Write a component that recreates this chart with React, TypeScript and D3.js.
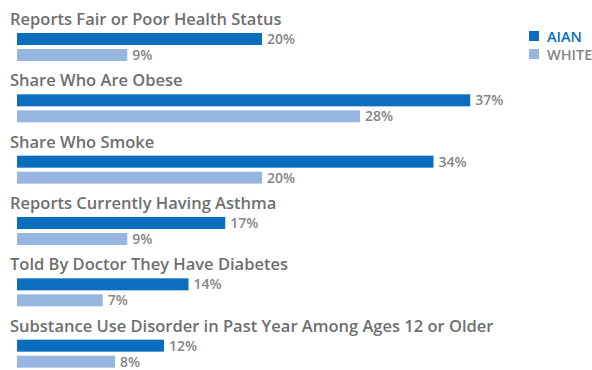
import React from "react";
import * as d3 from "d3";

const categories = [
  "Reports Fair or Poor Health Status",
  "Share Who Are Obese",
  "Share Who Smoke",
  "Reports Currently Having Asthma",
  "Told By Doctor They Have Diabetes",
  "Substance Use Disorder in Past Year Among Ages 12 or Older",
];
const aian = [20, 37, 34, 17, 14, 12];
const white = [9, 28, 20, 9, 7, 8];
const seriesNames = ["AIAN", "WHITE"];

const W = 592;
const H = 370;
const AIAN_COLOR = "#0a6dbd";
const WHITE_COLOR = "#97b6df";
const TEXT_GRAY = "#6f6f6f";
const LABEL_GRAY = "#858585";
const FONT = "'Open Sans', 'DejaVu Sans', sans-serif";

export default function App() {
  const x = d3.scaleLinear().domain([0, 40]).range([17, 507]);
  const y = d3.scaleBand<string>().domain(categories).range([7, 375]);
  const barH = 12;

  return (
    <svg
      width={W}
      height={H}
      style={{ position: "absolute", left: 0, top: 0, background: "#fff" }}
      fontFamily={FONT}
    >
      {categories.map((c, i) => {
        const g = y(c) as number;
        const aTop = g + 26;
        const wTop = g + 42;
        return (
          <g key={c}>
            <text x={10} y={g + 18} fontSize={16.5} fontWeight={600} fill={TEXT_GRAY}>
              {c}
            </text>
            <rect x={x(0)} y={aTop} width={x(aian[i]) - x(0)} height={barH} fill={AIAN_COLOR} />
            <text
              x={x(aian[i]) + 5}
              y={aTop + barH / 2 + 5}
              fontSize={14}
              fontWeight={600}
              fill={LABEL_GRAY}
            >
              {aian[i]}%
            </text>
            <rect x={x(0)} y={wTop} width={x(white[i]) - x(0)} height={barH} fill={WHITE_COLOR} />
            <text
              x={x(white[i]) + 5}
              y={wTop + barH / 2 + 5}
              fontSize={14}
              fontWeight={600}
              fill={LABEL_GRAY}
            >
              {white[i]}%
            </text>
          </g>
        );
      })}
      {seriesNames.map((s, i) => (
        <g key={s} transform={`translate(529, ${31 + i * 18})`}>
          <rect x={0} y={0} width={10} height={10} fill={i === 0 ? AIAN_COLOR : WHITE_COLOR} />
          <text
            x={18}
            y={10.5}
            fontSize={14.5}
            fontWeight={600}
            fill={i === 0 ? AIAN_COLOR : LABEL_GRAY}
          >
            {s}
          </text>
        </g>
      ))}
    </svg>
  );
}
